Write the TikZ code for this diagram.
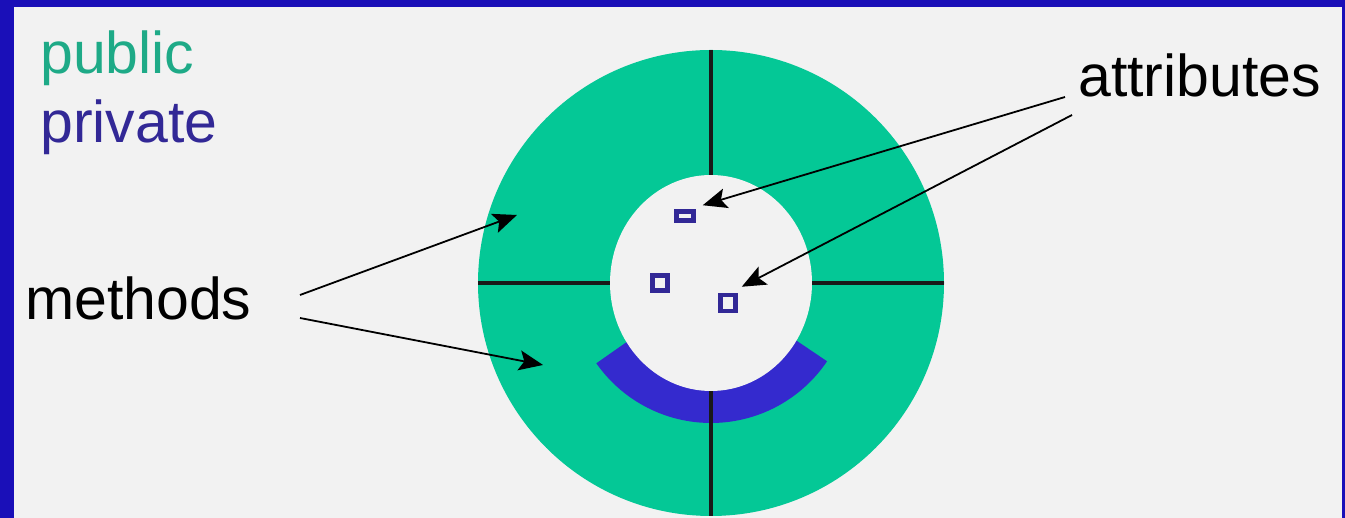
\documentclass[tikz,border=0pt]{standalone}
\usepackage{fontspec}
\setmainfont{Liberation Sans}
\usetikzlibrary{shapes.geometric}
\usetikzlibrary{arrows.meta}
\definecolor{frame_blue}{RGB}{26,15,184}
\definecolor{paper}{RGB}{242,242,242}
\definecolor{pub_green}{RGB}{4,200,150}
\definecolor{pub_text}{RGB}{30,170,135}
\definecolor{priv_blue}{RGB}{52,42,206}
\definecolor{attr_blue}{RGB}{50,40,150}
\tikzset{
  label_text/.style = {anchor=base west, inner sep=0pt,
    font=\fontsize{59}{62}\selectfont},% texte des legendes
  ring_node/.style = {circle, fill=pub_green, inner sep=0pt,
    minimum size=466pt},% anneau public
  core_node/.style = {ellipse, fill=paper, inner sep=0pt,
    minimum width=202pt, minimum height=216pt},% coeur prive
  attr_box/.style = {rectangle, draw=attr_blue, line width=4.5pt,
    fill=paper, inner sep=0pt},% attribut
  divider/.style = {line width=4.5pt, black!90},
  pointer/.style = {line width=1.8pt,
    -{Stealth[length=24pt, width=20pt, inset=5pt]}}
}
\begin{document}
\begin{tikzpicture}[x=1pt, y=1pt]
  \useasboundingbox (0,0) rectangle (1345,518);
  \fill [frame_blue] (0,0) rectangle (1345,518);
  \fill [paper] (14,0) rectangle (1342,511);
  % anneau et coeur
  \node [ring_node] (ring) at (711,235) {};
  \fill [priv_blue] (ring.center) -- ++(215:140pt) arc (215:326:140pt) -- cycle;
  \node [core_node] (core) at (711,235) {};
  \draw [divider] (ring.north) -- (core.north);
  \draw [divider] (ring.west) -- (core.west);
  \draw [divider] (ring.east) -- (core.east);
  \draw [divider] (core.south) -- (ring.south);
  \node [attr_box, minimum width=17pt, minimum height=9pt] (attr_a) at (685,302) {};
  \node [attr_box, minimum width=15pt, minimum height=15pt] (attr_b) at (660,235) {};
  \node [attr_box, minimum width=15pt, minimum height=16pt] (attr_c) at (728,215) {};
  % legendes
  \node [label_text, text=pub_text] (public) at (40,444) {public};
  \node [label_text, text=attr_blue] (private) at (40,375) {private};
  \node [label_text] (methods) at (25,198) {methods};
  \node [label_text] (attributes) at (1078,421) {attributes};
  \coordinate (m_up) at (300,223);
  \coordinate (m_low) at (300,200);
  \coordinate (m_up_tip) at (517,303);
  \coordinate (m_low_tip) at (543,153);
  \coordinate (a_up) at (1065,421);
  \coordinate (a_low) at (1072,403);
  \draw [pointer] (m_up) -- (m_up_tip);
  \draw [pointer] (m_low) -- (m_low_tip);
  \draw [pointer] (a_up) -- ([shift={(7pt,4pt)}]attr_a.north east);
  \draw [pointer] (a_low) -- ([shift={(4pt,6pt)}]attr_c.north east);
\end{tikzpicture}
\end{document}
